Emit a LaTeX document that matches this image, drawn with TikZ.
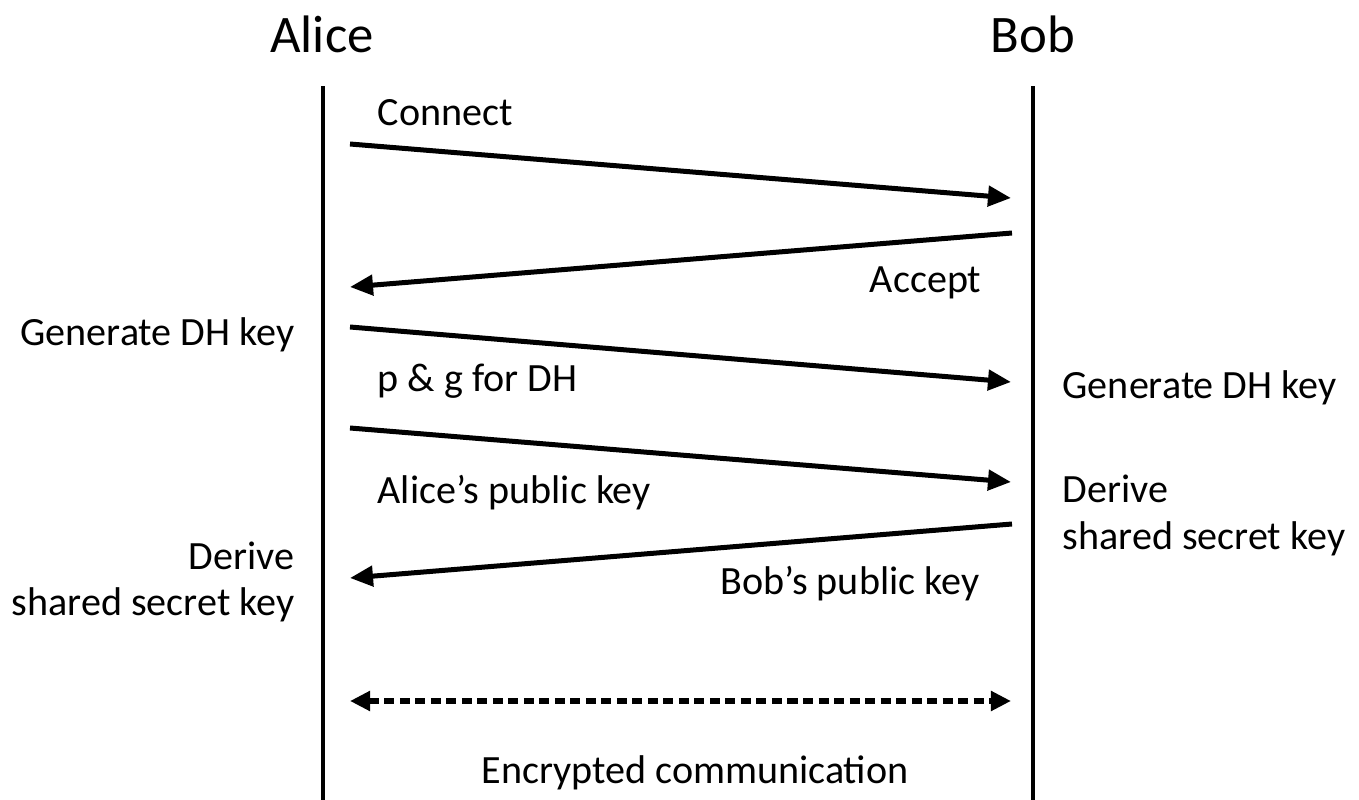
\documentclass[tikz,border=0pt]{standalone}
\usepackage{fontspec}
\setmainfont{Carlito}
\usetikzlibrary{arrows.meta}
\begin{document}
\begin{tikzpicture}[x=0.01cm,y=-0.01cm,
  party/.style={inner sep=0pt, font=\fontsize{15}{18}\selectfont},
  lbl/.style={inner sep=0pt, font=\fontsize{11.4}{13.1}\selectfont},
  lifeline/.style={line width=0.045cm},
  msg/.style={line width=0.05cm, -{Triangle[length=0.23cm,width=0.2cm]}},
  chan/.style={line width=0.06cm, dash pattern=on 0.1cm off 0.055cm,
    {Triangle[length=0.2cm,width=0.19cm]}-{Triangle[length=0.2cm,width=0.19cm]}}]
\useasboundingbox (0,0) rectangle (1359,800);

% participants and their lifelines
\node[party, anchor=base] (alice) at (322,52) {Alice};
\node[party, anchor=base] (bob) at (1033,52) {Bob};
\coordinate (aTop) at (323,86);
\coordinate (aBot) at (323,800);
\coordinate (bTop) at (1033,86);
\coordinate (bBot) at (1033,800);
\draw[lifeline] (aTop) -- (aBot);
\draw[lifeline] (bTop) -- (bBot);

% message end points
\coordinate (m1a) at (350,144);  \coordinate (m1b) at (1011,198);
\coordinate (m2b) at (1012,233); \coordinate (m2a) at (350,287);
\coordinate (m3a) at (350,327);  \coordinate (m3b) at (1011,382);
\coordinate (m4a) at (350,428);  \coordinate (m4b) at (1011,482);
\coordinate (m5b) at (1012,524); \coordinate (m5a) at (350,578);
\coordinate (m6a) at (350,701);  \coordinate (m6b) at (1011,701);

% messages
\draw[msg] (m1a) -- (m1b);
\draw[msg] (m2b) -- (m2a);
\draw[msg] (m3a) -- (m3b);
\draw[msg] (m4a) -- (m4b);
\draw[msg] (m5b) -- (m5a);
\draw[chan] (m6a) -- (m6b);

% message labels
\node[lbl, anchor=base west] (connect) at (377,125) {Connect};
\node[lbl, anchor=base east] (accept) at (982,293) {Accept};
\node[lbl, anchor=base west] (pg) at (377,392) {p \& g for DH};
\node[lbl, anchor=base west] (apk) at (377,503) {Alice’s public key};
\node[lbl, anchor=base east] (bpk) at (980,594) {Bob’s public key};
\node[lbl, anchor=base] (enc) at (695,783) {Encrypted communication};

% local steps (base anchor of a two-line label sits on its last line)
\node[lbl, anchor=base east] (agen) at (295,345) {Generate DH key};
\node[lbl, anchor=base west] (bgen) at (1062,398) {Generate DH key};
\node[lbl, anchor=base west, align=left] (bder) at (1062,549) {Derive\\shared secret key};
\node[lbl, anchor=base east, align=right] (ader) at (295,616) {Derive\\shared secret key};
\end{tikzpicture}
\end{document}
